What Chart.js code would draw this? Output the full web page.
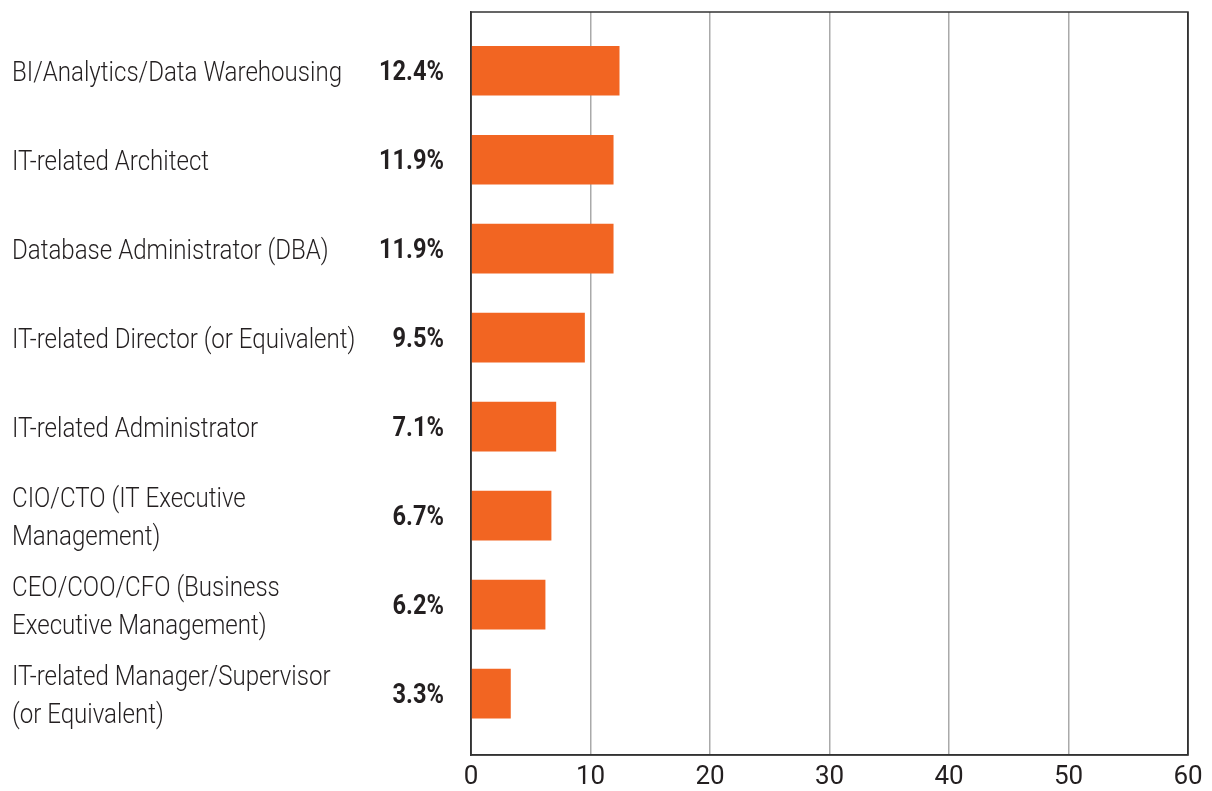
<!DOCTYPE html>
<html>
<head>
<meta charset="utf-8">
<script src="https://cdn.jsdelivr.net/npm/chart.js@4/dist/chart.umd.min.js"></script>
<style>
  html, body { margin: 0; padding: 0; background: #fff; }
  #wrap { width: 1212px; height: 791px; }
</style>
</head>
<body>
<div id="wrap"><canvas id="roles"></canvas></div>
<script>
// job roles, top to bottom
const role_labels = [
  ["BI/Analytics/Data Warehousing"],
  ["IT-related Architect"],
  ["Database Administrator (DBA)"],
  ["IT-related Director (or Equivalent)"],
  ["IT-related Administrator"],
  ["CIO/CTO (IT Executive", "Management)"],
  ["CEO/COO/CFO (Business", "Executive Management)"],
  ["IT-related Manager/Supervisor", "(or Equivalent)"]
];
const share_values = [12.4, 11.9, 11.9, 9.5, 7.1, 6.7, 6.2, 3.3];
const x_ticks = [0, 10, 20, 30, 40, 50, 60];

const bar_orange = "#f26522";
const text_dark = "#231f20";
const label_font = "Roboto, 'Liberation Sans', sans-serif";

// squeeze a font sideways so a sample string takes the given width
function squeezeFor(ctx, sample, width) {
  return Math.min(1, width / ctx.measureText(sample).width);
}

// frame round the plot, role names on the left, bold percent column
const frameAndLabels = {
  id: "frameAndLabels",
  afterDraw(chart) {
    const ctx = chart.ctx;
    const area = chart.chartArea;
    const y = chart.scales.y;
    ctx.save();
    ctx.strokeStyle = "#333";
    ctx.lineWidth = 1.5;
    ctx.strokeRect(area.left, area.top, area.right - area.left, area.bottom - area.top);

    ctx.fillStyle = text_dark;
    ctx.textBaseline = "middle";

    // role names, left aligned
    ctx.font = "300 28px " + label_font;
    ctx.textAlign = "left";
    let sx = squeezeFor(ctx, role_labels[0][0], 330);
    const line_gap = 38;
    role_labels.forEach(function (lines, i) {
      const cy = y.getPixelForValue(i) + 3;
      lines.forEach(function (txt, k) {
        const ly = cy + (k - (lines.length - 1) / 2) * line_gap;
        ctx.save();
        ctx.translate(12, ly);
        ctx.scale(sx, 1);
        ctx.fillText(txt, 0, 0);
        ctx.restore();
      });
    });

    // percentages, right aligned
    ctx.font = "bold 28px " + label_font;
    ctx.textAlign = "right";
    sx = squeezeFor(ctx, "12.4%", 65);
    share_values.forEach(function (v, i) {
      ctx.save();
      ctx.translate(444, y.getPixelForValue(i) + 2);
      ctx.scale(sx, 1);
      ctx.fillText(v.toFixed(1) + "%", 0, 0);
      ctx.restore();
    });
    ctx.restore();
  }
};

new Chart(document.getElementById("roles"), {
  type: "bar",
  data: {
    datasets: [{
      data: share_values.map(function (v, i) { return { x: v, y: i }; }),
      backgroundColor: bar_orange,
      borderWidth: 0,
      barThickness: 49
    }]
  },
  plugins: [frameAndLabels],
  options: {
    indexAxis: "y",
    responsive: true,
    maintainAspectRatio: false,
    animation: false,
    layout: { padding: { top: 12, right: 24, left: 12, bottom: 0 } },
    plugins: {
      legend: { display: false },
      tooltip: { enabled: false }
    },
    scales: {
      x: {
        type: "linear",
        min: 0,
        max: 60,
        afterBuildTicks: function (axis) {
          axis.ticks = x_ticks.map(function (v) { return { value: v }; });
        },
        afterFit: function (axis) { axis.height = 36; },
        grid: {
          color: function (c) { return c.tick && c.tick.value === 60 ? "#333" : "#aaa"; },
          lineWidth: 1.5,
          drawTicks: false
        },
        border: { color: "#333", width: 1.5 },
        ticks: {
          padding: 7,
          color: text_dark,
          font: { family: "Roboto, 'Liberation Sans', sans-serif", size: 26 }
        }
      },
      y: {
        type: "linear",
        reverse: true,
        offset: false,
        min: -0.66,
        max: 7.69,
        afterFit: function (axis) { axis.width = 459; },
        grid: { display: false, offset: false },
        border: { color: "#333", width: 1.5 },
        ticks: { display: false }
      }
    }
  }
});
</script>
</body>
</html>
